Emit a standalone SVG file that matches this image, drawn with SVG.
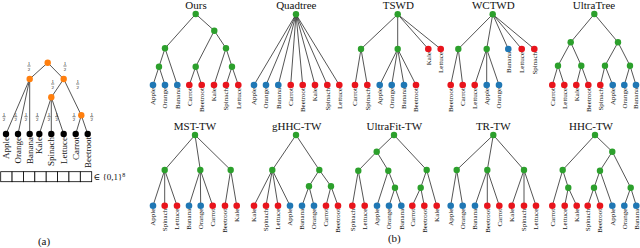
<svg xmlns="http://www.w3.org/2000/svg" xmlns:xlink="http://www.w3.org/1999/xlink" width="640" height="248" viewBox="0 0 640 248">
<style>
text{font-family:"Liberation Serif","DejaVu Serif",serif;fill:#111}
.e line{stroke:#2a2a2a;stroke-width:0.8}
.g{fill:#2ca02c}.b{fill:#1f77b4}.r{fill:#e8141c}.o{fill:#ff7f0e}.k{fill:#000}
.t{font-size:11px;text-anchor:middle}
.l{font-size:7px;text-anchor:end}
.la{font-size:9px;text-anchor:end}
.fr{font-size:5px;text-anchor:middle}
.box{fill:#fff;stroke:#000;stroke-width:0.8}
</style>
<defs>
<g id="half"><text class="fr" x="0" y="-1">1</text><line x1="-1.6" y1="0" x2="1.6" y2="0" stroke="#000" stroke-width="0.5"/><text class="fr" x="0" y="4.6">2</text></g>
</defs>
<rect width="640" height="248" fill="#fff"/>

<!-- ===== connectors ===== -->
<g id="connectors" class="e">
<!-- (a) -->
<line x1="47.7" y1="62.7" x2="29.7" y2="79"/><line x1="47.7" y1="62.7" x2="63.7" y2="79"/>
<line x1="29.7" y1="79" x2="6" y2="134"/><line x1="29.7" y1="79" x2="18" y2="134"/><line x1="29.7" y1="79" x2="29.7" y2="134"/>
<line x1="63.7" y1="79" x2="51.3" y2="97.3"/><line x1="63.7" y1="79" x2="81.3" y2="115.3"/>
<line x1="51.3" y1="97.3" x2="39.3" y2="134"/><line x1="51.3" y1="97.3" x2="51.3" y2="134"/><line x1="51.3" y1="97.3" x2="63.7" y2="134"/>
<line x1="81.3" y1="115.3" x2="75.7" y2="134"/><line x1="81.3" y1="115.3" x2="87.7" y2="134"/>
<!-- Ours -->
<line x1="195.7" y1="14" x2="165" y2="48.3"/><line x1="195.7" y1="14" x2="214.3" y2="30.7"/>
<line x1="165" y1="48.3" x2="159" y2="66.7"/><line x1="165" y1="48.3" x2="177.3" y2="85"/>
<line x1="159" y1="66.7" x2="153" y2="85"/><line x1="159" y1="66.7" x2="165" y2="85"/>
<line x1="214.3" y1="30.7" x2="195.7" y2="66.7"/><line x1="214.3" y1="30.7" x2="226" y2="48.3"/>
<line x1="195.7" y1="66.7" x2="189.3" y2="85"/><line x1="195.7" y1="66.7" x2="201.7" y2="85"/>
<line x1="226" y1="48.3" x2="214" y2="85"/><line x1="226" y1="48.3" x2="232" y2="66.7"/>
<line x1="232" y1="66.7" x2="226" y2="85"/><line x1="232" y1="66.7" x2="238.3" y2="85"/>
<!-- Quadtree -->
<line x1="296" y1="14.3" x2="254" y2="85"/><line x1="296" y1="14.3" x2="266" y2="85"/><line x1="296" y1="14.3" x2="278.3" y2="85"/><line x1="296" y1="14.3" x2="290.7" y2="85"/>
<line x1="296" y1="14.3" x2="302.7" y2="85"/><line x1="296" y1="14.3" x2="315" y2="85"/><line x1="296" y1="14.3" x2="327.3" y2="85"/><line x1="296" y1="14.3" x2="339.3" y2="85"/>
<!-- TSWD -->
<line x1="397.7" y1="14.3" x2="361" y2="49"/><line x1="397.7" y1="14.3" x2="397.7" y2="49"/><line x1="397.7" y1="14.3" x2="428.3" y2="49"/><line x1="397.7" y1="14.3" x2="440.7" y2="49"/>
<line x1="361" y1="49" x2="355" y2="85"/><line x1="361" y1="49" x2="367.3" y2="85"/>
<line x1="397.7" y1="49" x2="379.7" y2="85"/><line x1="397.7" y1="49" x2="391.7" y2="85"/><line x1="397.7" y1="49" x2="404" y2="85"/><line x1="397.7" y1="49" x2="416" y2="85"/>
<!-- WCTWD -->
<line x1="492.7" y1="14.3" x2="458.3" y2="49"/><line x1="492.7" y1="14.3" x2="486.7" y2="49"/><line x1="492.7" y1="14.3" x2="508.3" y2="49"/><line x1="492.7" y1="14.3" x2="521.7" y2="49"/><line x1="492.7" y1="14.3" x2="534.3" y2="49"/>
<line x1="458.3" y1="49" x2="450.7" y2="85"/><line x1="458.3" y1="49" x2="462.7" y2="85"/>
<line x1="486.7" y1="49" x2="474.7" y2="85"/><line x1="486.7" y1="49" x2="486.7" y2="85"/><line x1="486.7" y1="49" x2="499" y2="85"/>
<!-- UltraTree -->
<line x1="594.3" y1="14" x2="570.7" y2="42.3"/><line x1="594.3" y1="14" x2="618" y2="42.3"/>
<line x1="570.7" y1="42.3" x2="558" y2="65.7"/><line x1="570.7" y1="42.3" x2="581.3" y2="65.7"/>
<line x1="618" y1="42.3" x2="605" y2="65.7"/><line x1="618" y1="42.3" x2="630" y2="65.7"/>
<line x1="558" y1="65.7" x2="552.3" y2="85"/><line x1="558" y1="65.7" x2="564.3" y2="85"/>
<line x1="581.3" y1="65.7" x2="576.3" y2="85"/><line x1="581.3" y1="65.7" x2="588.3" y2="85"/>
<line x1="605" y1="65.7" x2="600.3" y2="85"/><line x1="605" y1="65.7" x2="612.7" y2="85"/>
<line x1="630" y1="65.7" x2="624.3" y2="85"/><line x1="630" y1="65.7" x2="636" y2="85"/>
<!-- MST-TW -->
<line x1="195" y1="135" x2="164.7" y2="170"/><line x1="195" y1="135" x2="200.3" y2="170"/><line x1="195" y1="135" x2="230.7" y2="170"/>
<line x1="164.7" y1="170" x2="153" y2="205.7"/><line x1="164.7" y1="170" x2="164.7" y2="205.7"/><line x1="164.7" y1="170" x2="177" y2="205.7"/>
<line x1="200.3" y1="170" x2="189" y2="205.7"/><line x1="200.3" y1="170" x2="200.7" y2="205.7"/><line x1="200.3" y1="170" x2="212.7" y2="205.7"/>
<line x1="230.7" y1="170" x2="225" y2="205.7"/><line x1="230.7" y1="170" x2="236.7" y2="205.7"/>
<!-- gHHC-TW -->
<line x1="296" y1="135" x2="272.3" y2="170"/><line x1="296" y1="135" x2="319.3" y2="170"/>
<line x1="272.3" y1="170" x2="254" y2="205.7"/><line x1="272.3" y1="170" x2="266" y2="205.7"/><line x1="272.3" y1="170" x2="278" y2="205.7"/><line x1="272.3" y1="170" x2="290" y2="205.7"/>
<line x1="319.3" y1="170" x2="309" y2="186.3"/><line x1="319.3" y1="170" x2="331" y2="186.3"/>
<line x1="309" y1="186.3" x2="302" y2="205.7"/><line x1="309" y1="186.3" x2="314" y2="205.7"/>
<line x1="331" y1="186.3" x2="326" y2="205.7"/><line x1="331" y1="186.3" x2="338" y2="205.7"/>
<!-- UltraFit-TW -->
<line x1="394" y1="135" x2="376.7" y2="151.7"/><line x1="394" y1="135" x2="426.7" y2="170"/>
<line x1="376.7" y1="151.7" x2="358.3" y2="170.7"/><line x1="376.7" y1="151.7" x2="388.3" y2="170.7"/>
<line x1="358.3" y1="170.7" x2="352.3" y2="205.7"/><line x1="358.3" y1="170.7" x2="364.7" y2="205.7"/>
<line x1="388.3" y1="170.7" x2="377" y2="205.7"/><line x1="388.3" y1="170.7" x2="395" y2="187.7"/>
<line x1="395" y1="187.7" x2="389" y2="205.7"/><line x1="395" y1="187.7" x2="401.3" y2="205.7"/>
<line x1="426.7" y1="170" x2="420.7" y2="187.7"/><line x1="426.7" y1="170" x2="436.7" y2="205.7"/>
<line x1="420.7" y1="187.7" x2="412.3" y2="205.7"/><line x1="420.7" y1="187.7" x2="424.3" y2="205.7"/>
<!-- TR-TW -->
<line x1="493.3" y1="135" x2="456.7" y2="170"/><line x1="493.3" y1="135" x2="487.3" y2="170"/><line x1="493.3" y1="135" x2="524" y2="170"/>
<line x1="456.7" y1="170" x2="450.7" y2="205.7"/><line x1="456.7" y1="170" x2="462.7" y2="205.7"/>
<line x1="487.3" y1="170" x2="475" y2="205.7"/><line x1="487.3" y1="170" x2="487.3" y2="205.7"/><line x1="487.3" y1="170" x2="499.3" y2="205.7"/>
<line x1="524" y1="170" x2="511.7" y2="205.7"/><line x1="524" y1="170" x2="524" y2="205.7"/><line x1="524" y1="170" x2="536" y2="205.7"/>
<!-- HHC-TW -->
<line x1="595" y1="135" x2="562.7" y2="170"/><line x1="595" y1="135" x2="612.3" y2="151.7"/>
<line x1="562.7" y1="170" x2="552.3" y2="205.7"/><line x1="562.7" y1="170" x2="568.3" y2="187.7"/>
<line x1="568.3" y1="187.7" x2="564.7" y2="205.7"/><line x1="568.3" y1="187.7" x2="576.7" y2="205.7"/>
<line x1="612.3" y1="151.7" x2="600" y2="170.7"/><line x1="612.3" y1="151.7" x2="630.7" y2="187.7"/>
<line x1="600" y1="170.7" x2="594" y2="187.7"/><line x1="600" y1="170.7" x2="612.3" y2="205.7"/>
<line x1="594" y1="187.7" x2="587.7" y2="205.7"/><line x1="594" y1="187.7" x2="600" y2="205.7"/>
<line x1="630.7" y1="187.7" x2="624.3" y2="205.7"/><line x1="630.7" y1="187.7" x2="636.3" y2="205.7"/>
</g>

<!-- ===== panel (a) ===== -->
<g id="a-nodes">
<g id="a-root"><circle class="o" cx="47.7" cy="62.7" r="3.2"/></g>
<g id="a-n1"><circle class="o" cx="29.7" cy="79" r="3.2"/></g>
<g id="a-n2"><circle class="o" cx="63.7" cy="79" r="3.2"/></g>
<g id="a-n3"><circle class="o" cx="51.3" cy="97.3" r="3.2"/></g>
<g id="a-n4"><circle class="o" cx="81.3" cy="115.3" r="3.2"/></g>
<g id="a-apple"><circle class="k" cx="6" cy="134" r="3.2"/><text class="la" transform="translate(9,137) rotate(-90)">Apple</text></g>
<g id="a-orange"><circle class="k" cx="18" cy="134" r="3.2"/><text class="la" transform="translate(21,137) rotate(-90)">Orange</text></g>
<g id="a-banana"><circle class="k" cx="29.7" cy="134" r="3.2"/><text class="la" transform="translate(32.7,137) rotate(-90)">Banana</text></g>
<g id="a-kale"><circle class="k" cx="39.3" cy="134" r="3.2"/><text class="la" transform="translate(42.3,137) rotate(-90)">Kale</text></g>
<g id="a-spinach"><circle class="k" cx="51.3" cy="134" r="3.2"/><text class="la" transform="translate(54.3,137) rotate(-90)">Spinach</text></g>
<g id="a-lettuce"><circle class="k" cx="63.7" cy="134" r="3.2"/><text class="la" transform="translate(66.7,137) rotate(-90)">Lettuce</text></g>
<g id="a-carrot"><circle class="k" cx="75.7" cy="134" r="3.2"/><text class="la" transform="translate(78.7,137) rotate(-90)">Carrot</text></g>
<g id="a-beetroot"><circle class="k" cx="87.7" cy="134" r="3.2"/><text class="la" transform="translate(90.7,137) rotate(-90)">Beetroot</text></g>
</g>
<g id="a-weights">
<use xlink:href="#half" x="29" y="66"/><use xlink:href="#half" x="65" y="66"/>
<use xlink:href="#half" x="52.7" y="84"/><use xlink:href="#half" x="77.7" y="84"/>
<use xlink:href="#half" x="4" y="116.7"/><use xlink:href="#half" x="15.7" y="116.7"/><use xlink:href="#half" x="26" y="116.7"/><use xlink:href="#half" x="37.3" y="116.7"/>
<use xlink:href="#half" x="49" y="116.7"/><use xlink:href="#half" x="56.7" y="116.7"/><use xlink:href="#half" x="74" y="116.7"/><use xlink:href="#half" x="91.7" y="116.7"/>
</g>
<g id="a-vector">
<rect class="box" x="0.7" y="171.7" width="11.375" height="10"/><rect class="box" x="12.075" y="171.7" width="11.375" height="10"/>
<rect class="box" x="23.45" y="171.7" width="11.375" height="10"/><rect class="box" x="34.825" y="171.7" width="11.375" height="10"/>
<rect class="box" x="46.2" y="171.7" width="11.375" height="10"/><rect class="box" x="57.575" y="171.7" width="11.375" height="10"/>
<rect class="box" x="68.95" y="171.7" width="11.375" height="10"/><rect class="box" x="80.325" y="171.7" width="11.375" height="10"/>
<text x="93.5" y="180" font-size="9">∈ {0,1}<tspan font-size="6" dy="-3.5">8</tspan></text>
</g>
<text id="cap-a" x="44" y="245" font-size="11" text-anchor="middle">(a)</text>

<!-- ===== Ours ===== -->
<g id="ours">
<text class="t" x="196" y="9">Ours</text>
<g id="ours-n0"><circle class="g" cx="195.7" cy="14" r="3.2"/></g>
<g id="ours-n1"><circle class="g" cx="165" cy="48.3" r="3.2"/></g>
<g id="ours-n2"><circle class="g" cx="214.3" cy="30.7" r="3.2"/></g>
<g id="ours-n3"><circle class="g" cx="159" cy="66.7" r="3.2"/></g>
<g id="ours-n4"><circle class="g" cx="195.7" cy="66.7" r="3.2"/></g>
<g id="ours-n5"><circle class="g" cx="226" cy="48.3" r="3.2"/></g>
<g id="ours-n6"><circle class="g" cx="232" cy="66.7" r="3.2"/></g>
<g id="ours-apple"><circle class="b" cx="153" cy="85" r="3.3"/><text class="l" transform="translate(155.4,88) rotate(-90)">Apple</text></g>
<g id="ours-orange"><circle class="b" cx="165" cy="85" r="3.3"/><text class="l" transform="translate(167.4,88) rotate(-90)">Orange</text></g>
<g id="ours-banana"><circle class="b" cx="177.3" cy="85" r="3.3"/><text class="l" transform="translate(179.7,88) rotate(-90)">Banana</text></g>
<g id="ours-carrot"><circle class="r" cx="189.3" cy="85" r="3.3"/><text class="l" transform="translate(191.7,88) rotate(-90)">Carrot</text></g>
<g id="ours-beetroot"><circle class="r" cx="201.7" cy="85" r="3.3"/><text class="l" transform="translate(204.1,88) rotate(-90)">Beetroot</text></g>
<g id="ours-kale"><circle class="r" cx="214" cy="85" r="3.3"/><text class="l" transform="translate(216.4,88) rotate(-90)">Kale</text></g>
<g id="ours-spinach"><circle class="r" cx="226" cy="85" r="3.3"/><text class="l" transform="translate(228.4,88) rotate(-90)">Spinach</text></g>
<g id="ours-lettuce"><circle class="r" cx="238.3" cy="85" r="3.3"/><text class="l" transform="translate(240.7,88) rotate(-90)">Lettuce</text></g>
</g>

<!-- ===== Quadtree ===== -->
<g id="quadtree">
<text class="t" x="296.3" y="9">Quadtree</text>
<g id="qt-n0"><circle class="g" cx="296" cy="14.3" r="3.2"/></g>
<g id="qt-apple"><circle class="b" cx="254" cy="85" r="3.3"/><text class="l" transform="translate(256.4,88) rotate(-90)">Apple</text></g>
<g id="qt-orange"><circle class="b" cx="266" cy="85" r="3.3"/><text class="l" transform="translate(268.4,88) rotate(-90)">Orange</text></g>
<g id="qt-banana"><circle class="b" cx="278.3" cy="85" r="3.3"/><text class="l" transform="translate(280.7,88) rotate(-90)">Banana</text></g>
<g id="qt-carrot"><circle class="r" cx="290.7" cy="85" r="3.3"/><text class="l" transform="translate(293.1,88) rotate(-90)">Carrot</text></g>
<g id="qt-beetroot"><circle class="r" cx="302.7" cy="85" r="3.3"/><text class="l" transform="translate(305.1,88) rotate(-90)">Beetroot</text></g>
<g id="qt-kale"><circle class="r" cx="315" cy="85" r="3.3"/><text class="l" transform="translate(317.4,88) rotate(-90)">Kale</text></g>
<g id="qt-spinach"><circle class="r" cx="327.3" cy="85" r="3.3"/><text class="l" transform="translate(329.7,88) rotate(-90)">Spinach</text></g>
<g id="qt-lettuce"><circle class="r" cx="339.3" cy="85" r="3.3"/><text class="l" transform="translate(341.7,88) rotate(-90)">Lettuce</text></g>
</g>

<!-- ===== TSWD ===== -->
<g id="tswd">
<text class="t" x="398.3" y="9">TSWD</text>
<g id="tswd-n0"><circle class="g" cx="397.7" cy="14.3" r="3.2"/></g>
<g id="tswd-n1"><circle class="g" cx="361" cy="49" r="3.2"/></g>
<g id="tswd-n2"><circle class="g" cx="397.7" cy="49" r="3.2"/></g>
<g id="tswd-kale"><circle class="r" cx="428.3" cy="49" r="3.3"/><text class="l" transform="translate(430.7,52) rotate(-90)">Kale</text></g>
<g id="tswd-lettuce"><circle class="r" cx="440.7" cy="49" r="3.3"/><text class="l" transform="translate(443.1,52) rotate(-90)">Lettuce</text></g>
<g id="tswd-carrot"><circle class="r" cx="355" cy="85" r="3.3"/><text class="l" transform="translate(357.4,88) rotate(-90)">Carrot</text></g>
<g id="tswd-spinach"><circle class="r" cx="367.3" cy="85" r="3.3"/><text class="l" transform="translate(369.7,88) rotate(-90)">Spinach</text></g>
<g id="tswd-apple"><circle class="b" cx="379.7" cy="85" r="3.3"/><text class="l" transform="translate(382.1,88) rotate(-90)">Apple</text></g>
<g id="tswd-orange"><circle class="b" cx="391.7" cy="85" r="3.3"/><text class="l" transform="translate(394.1,88) rotate(-90)">Orange</text></g>
<g id="tswd-banana"><circle class="b" cx="404" cy="85" r="3.3"/><text class="l" transform="translate(406.4,88) rotate(-90)">Banana</text></g>
<g id="tswd-beetroot"><circle class="r" cx="416" cy="85" r="3.3"/><text class="l" transform="translate(418.4,88) rotate(-90)">Beetroot</text></g>
</g>

<!-- ===== WCTWD ===== -->
<g id="wctwd">
<text class="t" x="493.3" y="9">WCTWD</text>
<g id="wc-n0"><circle class="g" cx="492.7" cy="14.3" r="3.2"/></g>
<g id="wc-n1"><circle class="g" cx="458.3" cy="49" r="3.2"/></g>
<g id="wc-n2"><circle class="g" cx="486.7" cy="49" r="3.2"/></g>
<g id="wc-banana"><circle class="b" cx="508.3" cy="49" r="3.3"/><text class="l" transform="translate(510.7,52) rotate(-90)">Banana</text></g>
<g id="wc-lettuce1"><circle class="r" cx="521.7" cy="49" r="3.3"/><text class="l" transform="translate(524.1,52) rotate(-90)">Lettuce</text></g>
<g id="wc-spinach"><circle class="r" cx="534.3" cy="49" r="3.3"/><text class="l" transform="translate(536.7,52) rotate(-90)">Spinach</text></g>
<g id="wc-beetroot"><circle class="r" cx="450.7" cy="85" r="3.3"/><text class="l" transform="translate(453.1,88) rotate(-90)">Beetroot</text></g>
<g id="wc-carrot"><circle class="r" cx="462.7" cy="85" r="3.3"/><text class="l" transform="translate(465.1,88) rotate(-90)">Carrot</text></g>
<g id="wc-lettuce2"><circle class="r" cx="474.7" cy="85" r="3.3"/><text class="l" transform="translate(477.1,88) rotate(-90)">Lettuce</text></g>
<g id="wc-apple"><circle class="b" cx="486.7" cy="85" r="3.3"/><text class="l" transform="translate(489.1,88) rotate(-90)">Apple</text></g>
<g id="wc-orange"><circle class="b" cx="499" cy="85" r="3.3"/><text class="l" transform="translate(501.4,88) rotate(-90)">Orange</text></g>
</g>

<!-- ===== UltraTree ===== -->
<g id="ultratree">
<text class="t" x="594" y="9">UltraTree</text>
<g id="ut-n0"><circle class="g" cx="594.3" cy="14" r="3.2"/></g>
<g id="ut-n1"><circle class="g" cx="570.7" cy="42.3" r="3.2"/></g>
<g id="ut-n2"><circle class="g" cx="618" cy="42.3" r="3.2"/></g>
<g id="ut-n3"><circle class="g" cx="558" cy="65.7" r="3.2"/></g>
<g id="ut-n4"><circle class="g" cx="581.3" cy="65.7" r="3.2"/></g>
<g id="ut-n5"><circle class="g" cx="605" cy="65.7" r="3.2"/></g>
<g id="ut-n6"><circle class="g" cx="630" cy="65.7" r="3.2"/></g>
<g id="ut-carrot"><circle class="r" cx="552.3" cy="85" r="3.3"/><text class="l" transform="translate(554.7,88) rotate(-90)">Carrot</text></g>
<g id="ut-lettuce"><circle class="r" cx="564.3" cy="85" r="3.3"/><text class="l" transform="translate(566.7,88) rotate(-90)">Lettuce</text></g>
<g id="ut-kale"><circle class="r" cx="576.3" cy="85" r="3.3"/><text class="l" transform="translate(578.7,88) rotate(-90)">Kale</text></g>
<g id="ut-beetroot"><circle class="r" cx="588.3" cy="85" r="3.3"/><text class="l" transform="translate(590.7,88) rotate(-90)">Beetroot</text></g>
<g id="ut-spinach"><circle class="r" cx="600.3" cy="85" r="3.3"/><text class="l" transform="translate(602.7,88) rotate(-90)">Spinach</text></g>
<g id="ut-apple"><circle class="b" cx="612.7" cy="85" r="3.3"/><text class="l" transform="translate(615.1,88) rotate(-90)">Apple</text></g>
<g id="ut-orange"><circle class="b" cx="624.3" cy="85" r="3.3"/><text class="l" transform="translate(626.7,88) rotate(-90)">Orange</text></g>
<g id="ut-banana"><circle class="b" cx="636" cy="85" r="3.3"/><text class="l" transform="translate(638.4,88) rotate(-90)">Banana</text></g>
</g>

<!-- ===== MST-TW ===== -->
<g id="msttw">
<text class="t" x="195" y="130">MST-TW</text>
<g id="mst-n0"><circle class="g" cx="195" cy="135" r="3.2"/></g>
<g id="mst-n1"><circle class="g" cx="164.7" cy="170" r="3.2"/></g>
<g id="mst-n2"><circle class="g" cx="200.3" cy="170" r="3.2"/></g>
<g id="mst-n3"><circle class="g" cx="230.7" cy="170" r="3.2"/></g>
<g id="mst-apple"><circle class="b" cx="153" cy="205.7" r="3.3"/><text class="l" transform="translate(155.4,208.7) rotate(-90)">Apple</text></g>
<g id="mst-spinach"><circle class="r" cx="164.7" cy="205.7" r="3.3"/><text class="l" transform="translate(167.1,208.7) rotate(-90)">Spinach</text></g>
<g id="mst-lettuce"><circle class="r" cx="177" cy="205.7" r="3.3"/><text class="l" transform="translate(179.4,208.7) rotate(-90)">Lettuce</text></g>
<g id="mst-banana"><circle class="b" cx="189" cy="205.7" r="3.3"/><text class="l" transform="translate(191.4,208.7) rotate(-90)">Banana</text></g>
<g id="mst-orange"><circle class="b" cx="200.7" cy="205.7" r="3.3"/><text class="l" transform="translate(203.1,208.7) rotate(-90)">Orange</text></g>
<g id="mst-carrot"><circle class="r" cx="212.7" cy="205.7" r="3.3"/><text class="l" transform="translate(215.1,208.7) rotate(-90)">Carrot</text></g>
<g id="mst-beetroot"><circle class="r" cx="225" cy="205.7" r="3.3"/><text class="l" transform="translate(227.4,208.7) rotate(-90)">Beetroot</text></g>
<g id="mst-kale"><circle class="r" cx="236.7" cy="205.7" r="3.3"/><text class="l" transform="translate(239.1,208.7) rotate(-90)">Kale</text></g>
</g>

<!-- ===== gHHC-TW ===== -->
<g id="ghhctw">
<text class="t" x="296.7" y="130">gHHC-TW</text>
<g id="gh-n0"><circle class="g" cx="296" cy="135" r="3.2"/></g>
<g id="gh-n1"><circle class="g" cx="272.3" cy="170" r="3.2"/></g>
<g id="gh-n2"><circle class="g" cx="319.3" cy="170" r="3.2"/></g>
<g id="gh-n3"><circle class="g" cx="309" cy="186.3" r="3.2"/></g>
<g id="gh-n4"><circle class="g" cx="331" cy="186.3" r="3.2"/></g>
<g id="gh-kale"><circle class="r" cx="254" cy="205.7" r="3.3"/><text class="l" transform="translate(256.4,208.7) rotate(-90)">Kale</text></g>
<g id="gh-spinach"><circle class="r" cx="266" cy="205.7" r="3.3"/><text class="l" transform="translate(268.4,208.7) rotate(-90)">Spinach</text></g>
<g id="gh-lettuce"><circle class="r" cx="278" cy="205.7" r="3.3"/><text class="l" transform="translate(280.4,208.7) rotate(-90)">Lettuce</text></g>
<g id="gh-apple"><circle class="b" cx="290" cy="205.7" r="3.3"/><text class="l" transform="translate(292.4,208.7) rotate(-90)">Apple</text></g>
<g id="gh-banana"><circle class="b" cx="302" cy="205.7" r="3.3"/><text class="l" transform="translate(304.4,208.7) rotate(-90)">Banana</text></g>
<g id="gh-orange"><circle class="b" cx="314" cy="205.7" r="3.3"/><text class="l" transform="translate(316.4,208.7) rotate(-90)">Orange</text></g>
<g id="gh-carrot"><circle class="r" cx="326" cy="205.7" r="3.3"/><text class="l" transform="translate(328.4,208.7) rotate(-90)">Carrot</text></g>
<g id="gh-beetroot"><circle class="r" cx="338" cy="205.7" r="3.3"/><text class="l" transform="translate(340.4,208.7) rotate(-90)">Beetroot</text></g>
</g>

<!-- ===== UltraFit-TW ===== -->
<g id="ultrafittw">
<text class="t" x="394.3" y="130">UltraFit-TW</text>
<g id="uf-n0"><circle class="g" cx="394" cy="135" r="3.2"/></g>
<g id="uf-n1"><circle class="g" cx="376.7" cy="151.7" r="3.2"/></g>
<g id="uf-n2"><circle class="g" cx="426.7" cy="170" r="3.2"/></g>
<g id="uf-n3"><circle class="g" cx="358.3" cy="170.7" r="3.2"/></g>
<g id="uf-n4"><circle class="g" cx="388.3" cy="170.7" r="3.2"/></g>
<g id="uf-n5"><circle class="g" cx="395" cy="187.7" r="3.2"/></g>
<g id="uf-n6"><circle class="g" cx="420.7" cy="187.7" r="3.2"/></g>
<g id="uf-spinach"><circle class="r" cx="352.3" cy="205.7" r="3.3"/><text class="l" transform="translate(354.7,208.7) rotate(-90)">Spinach</text></g>
<g id="uf-lettuce"><circle class="r" cx="364.7" cy="205.7" r="3.3"/><text class="l" transform="translate(367.1,208.7) rotate(-90)">Lettuce</text></g>
<g id="uf-apple"><circle class="b" cx="377" cy="205.7" r="3.3"/><text class="l" transform="translate(379.4,208.7) rotate(-90)">Apple</text></g>
<g id="uf-orange"><circle class="b" cx="389" cy="205.7" r="3.3"/><text class="l" transform="translate(391.4,208.7) rotate(-90)">Orange</text></g>
<g id="uf-banana"><circle class="b" cx="401.3" cy="205.7" r="3.3"/><text class="l" transform="translate(403.7,208.7) rotate(-90)">Banana</text></g>
<g id="uf-carrot"><circle class="r" cx="412.3" cy="205.7" r="3.3"/><text class="l" transform="translate(414.7,208.7) rotate(-90)">Carrot</text></g>
<g id="uf-beetroot"><circle class="r" cx="424.3" cy="205.7" r="3.3"/><text class="l" transform="translate(426.7,208.7) rotate(-90)">Beetroot</text></g>
<g id="uf-kale"><circle class="r" cx="436.7" cy="205.7" r="3.3"/><text class="l" transform="translate(439.1,208.7) rotate(-90)">Kale</text></g>
</g>

<!-- ===== TR-TW ===== -->
<g id="trtw">
<text class="t" x="493.3" y="130">TR-TW</text>
<g id="tr-n0"><circle class="g" cx="493.3" cy="135" r="3.2"/></g>
<g id="tr-n1"><circle class="g" cx="456.7" cy="170" r="3.2"/></g>
<g id="tr-n2"><circle class="g" cx="487.3" cy="170" r="3.2"/></g>
<g id="tr-n3"><circle class="g" cx="524" cy="170" r="3.2"/></g>
<g id="tr-apple"><circle class="b" cx="450.7" cy="205.7" r="3.3"/><text class="l" transform="translate(453.1,208.7) rotate(-90)">Apple</text></g>
<g id="tr-orange"><circle class="b" cx="462.7" cy="205.7" r="3.3"/><text class="l" transform="translate(465.1,208.7) rotate(-90)">Orange</text></g>
<g id="tr-banana"><circle class="b" cx="475" cy="205.7" r="3.3"/><text class="l" transform="translate(477.4,208.7) rotate(-90)">Banana</text></g>
<g id="tr-beetroot"><circle class="r" cx="487.3" cy="205.7" r="3.3"/><text class="l" transform="translate(489.7,208.7) rotate(-90)">Beetroot</text></g>
<g id="tr-carrot"><circle class="r" cx="499.3" cy="205.7" r="3.3"/><text class="l" transform="translate(501.7,208.7) rotate(-90)">Carrot</text></g>
<g id="tr-kale"><circle class="r" cx="511.7" cy="205.7" r="3.3"/><text class="l" transform="translate(514.1,208.7) rotate(-90)">Kale</text></g>
<g id="tr-spinach"><circle class="r" cx="524" cy="205.7" r="3.3"/><text class="l" transform="translate(526.4,208.7) rotate(-90)">Spinach</text></g>
<g id="tr-lettuce"><circle class="r" cx="536" cy="205.7" r="3.3"/><text class="l" transform="translate(538.4,208.7) rotate(-90)">Lettuce</text></g>
</g>

<!-- ===== HHC-TW ===== -->
<g id="hhctw">
<text class="t" x="591" y="130">HHC-TW</text>
<g id="hh-n0"><circle class="g" cx="595" cy="135" r="3.2"/></g>
<g id="hh-n1"><circle class="g" cx="562.7" cy="170" r="3.2"/></g>
<g id="hh-n2"><circle class="g" cx="612.3" cy="151.7" r="3.2"/></g>
<g id="hh-n3"><circle class="g" cx="568.3" cy="187.7" r="3.2"/></g>
<g id="hh-n4"><circle class="g" cx="600" cy="170.7" r="3.2"/></g>
<g id="hh-n5"><circle class="g" cx="594" cy="187.7" r="3.2"/></g>
<g id="hh-n6"><circle class="g" cx="630.7" cy="187.7" r="3.2"/></g>
<g id="hh-carrot"><circle class="r" cx="552.3" cy="205.7" r="3.3"/><text class="l" transform="translate(554.7,208.7) rotate(-90)">Carrot</text></g>
<g id="hh-lettuce"><circle class="r" cx="564.7" cy="205.7" r="3.3"/><text class="l" transform="translate(567.1,208.7) rotate(-90)">Lettuce</text></g>
<g id="hh-kale"><circle class="r" cx="576.7" cy="205.7" r="3.3"/><text class="l" transform="translate(579.1,208.7) rotate(-90)">Kale</text></g>
<g id="hh-spinach"><circle class="r" cx="587.7" cy="205.7" r="3.3"/><text class="l" transform="translate(590.1,208.7) rotate(-90)">Spinach</text></g>
<g id="hh-beetroot"><circle class="r" cx="600" cy="205.7" r="3.3"/><text class="l" transform="translate(602.4,208.7) rotate(-90)">Beetroot</text></g>
<g id="hh-apple"><circle class="b" cx="612.3" cy="205.7" r="3.3"/><text class="l" transform="translate(614.7,208.7) rotate(-90)">Apple</text></g>
<g id="hh-orange"><circle class="b" cx="624.3" cy="205.7" r="3.3"/><text class="l" transform="translate(626.7,208.7) rotate(-90)">Orange</text></g>
<g id="hh-banana"><circle class="b" cx="636.3" cy="205.7" r="3.3"/><text class="l" transform="translate(638.7,208.7) rotate(-90)">Banana</text></g>
</g>

<text id="cap-b" x="394.3" y="242" font-size="11" text-anchor="middle">(b)</text>
</svg>
